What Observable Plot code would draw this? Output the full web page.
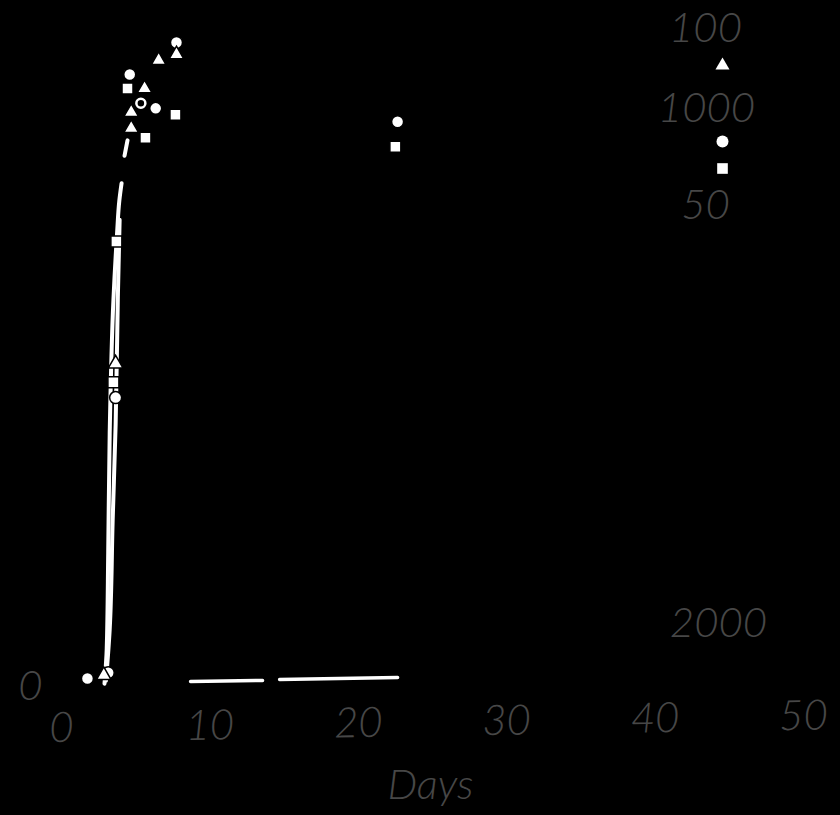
<!DOCTYPE html>
<html><head><meta charset="utf-8">
<script src="https://cdn.jsdelivr.net/npm/d3@7"></script>
<script src="https://cdn.jsdelivr.net/npm/@observablehq/plot@0.6"></script>
<style>
html,body{margin:0;padding:0;background:#000;}
#chart{width:840px;height:815px;overflow:hidden;}
</style></head><body><div id="chart"></div>
<script>
// ---- data ----
const xTicks = [0, 10, 20, 30, 40, 50];
const yTicks = [0];
const xLabel = "Days";
const legendLabels = ["100", "1000", "50"];
const extraLabel = "2000";

// dose 1000 (filled circles)
const circleDays   = [1.95, 3.35, 3.85, 4.8, 6.55, 7.95, 22.85];
const circleValues = [0.3, 1.2, 44.2, 94.7, 89.4, 99.7, 87.3];
// open circle
const openDays   = [5.55];
const openValues = [90.2];
// dose 100 (triangles)
const triDays   = [3.05, 3.85, 4.9, 4.9, 5.8, 6.75, 7.95];
const triValues = [0.8, 49.5, 86.3, 88.8, 92.5, 96.9, 97.8];
// dose 50 (squares)
const sqDays   = [3.7, 3.9, 4.65, 5.86, 7.88, 22.7];
const sqValues = [46.6, 68.6, 92.5, 84.8, 88.4, 83.4];

// fitted curves (NaN = gap)
const curveADays   = [3.1, 3.25, 3.35, 3.45, 3.7, 3.95, 4.1, 4.25, 4.35, 4.45, 4.65];
const curveAValues = [-0.5, 5, 20, 38.6, 59.4, 70, 75, 77.7, NaN, 82, 84.4];
const curveBDays   = [3.2, 3.45, 3.65, 3.85, 4.0, 4.12];
const curveBValues = [0, 8, 25, 40, 60, 72];
const baseDays   = [8.9, 13.75, 14.3, 14.9, 22.85];
const baseValues = [-0.15, 0, NaN, 0.15, 0.47];

// ---- build ----
const rows = (xs, ys) => xs.map((x, i) => ({x, y: ys[i]}));
const textStyle = {fill: "#474747", fontSize: 42, fontStyle: "italic", fontWeight: 300,
  fontFamily: "Lato, 'Open Sans', sans-serif", textAnchor: "middle", lineAnchor: "middle"};

const legendPos = [[647, -12], [648, 68], [647, 165]];
const legendSym = [["triangle", 664, 25, 5.2], ["circle", 664, 101, 6], ["square", 664, 128, 6]];

const marks = [
  Plot.line(rows(curveADays, curveAValues), {x: "x", y: "y", stroke: "white", strokeWidth: 4, curve: "monotone-y"}),
  Plot.line(rows(curveBDays, curveBValues), {x: "x", y: "y", stroke: "white", strokeWidth: 4, curve: "monotone-y"}),
  Plot.line(rows(baseDays, baseValues), {x: "x", y: "y", stroke: "white", strokeWidth: 3.5}),
  Plot.dot(rows(sqDays, sqValues), {x: "x", y: "y", symbol: "square", r: 6.2, fill: "white", stroke: "black", strokeWidth: 1.5}),
  Plot.dot(rows(circleDays, circleValues), {x: "x", y: "y", symbol: "circle", r: 6, fill: "white", stroke: "black", strokeWidth: 1.5}),
  Plot.dot(rows(openDays, openValues), {x: "x", y: "y", symbol: "circle", r: 4.5, fill: "black", stroke: "white", strokeWidth: 2.5}),
  Plot.dot(rows(triDays, triValues), {x: "x", y: "y", symbol: "triangle", r: 5.4, fill: "white", stroke: "black", strokeWidth: 1.5}),
  Plot.text(xTicks, {x: d => d, text: d => String(d), frameAnchor: "bottom", dx: 3, dy: 48, ariaLabel: () => "x tick label", ...textStyle}),
  Plot.text(yTicks, {y: d => d, text: d => String(d), frameAnchor: "left", dx: -28, dy: 6, ...textStyle}),
  Plot.text([xLabel], {text: d => d, frameAnchor: "bottom", dx: 1, dy: 105, ...textStyle}),
  Plot.text([extraLabel], {text: d => d, frameAnchor: "top-left", dx: 660, dy: 583, ...textStyle}),
  ...legendLabels.map((t, i) => Plot.text([t], {text: d => d, frameAnchor: "top-left", dx: legendPos[i][0], dy: legendPos[i][1], ...textStyle})),
  ...legendSym.map(([s, dx, dy, r]) => Plot.dot([s], {frameAnchor: "top-left", dx, dy, symbol: s, r, fill: "white"}))
];

const svg = Plot.plot({
  width: 840, height: 815,
  marginLeft: 58, marginRight: 40, marginTop: 40, marginBottom: 135,
  x: {domain: [0, 50], axis: null},
  y: {domain: [0, 100], axis: null},
  style: {background: "#000", color: "#fff", overflow: "visible"},
  marks
});

// the scanned tick row slopes slightly upward to the right
const t = svg.querySelector('text[aria-label="x tick label"]');
if (t) {
  const g = t.parentNode;
  const wrap = document.createElementNS("http://www.w3.org/2000/svg", "g");
  wrap.setAttribute("transform", "rotate(-0.93 58 728)");
  g.parentNode.insertBefore(wrap, g);
  wrap.appendChild(g);
}
document.getElementById("chart").appendChild(svg);
</script></body></html>
